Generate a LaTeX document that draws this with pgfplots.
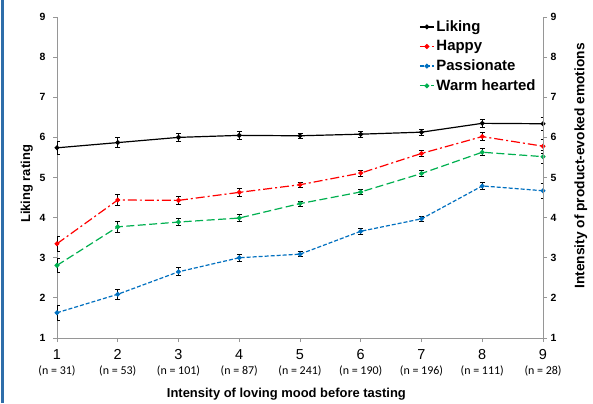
\documentclass[border=0pt]{standalone}
\usepackage{pgfplots}
\pgfplotsset{compat=1.18}
\usepackage{fontspec}
\setmainfont{Liberation Sans}
\newfontfamily\calibri{Carlito}
\definecolor{pblue}{RGB}{0,112,192}
\definecolor{wgreen}{RGB}{0,176,80}
\definecolor{axgrey}{RGB}{150,150,150}
\definecolor{frameblue}{RGB}{46,110,170}

\pgfplotstableread{
x y e
1 5.74 0.17
2 5.87 0.13
3 6.00 0.10
4 6.05 0.09
5 6.04 0.06
6 6.08 0.07
7 6.13 0.07
8 6.35 0.09
9 6.34 0.16
}\liking
\pgfplotstableread{
x y e
1 3.35 0.18
2 4.44 0.14
3 4.43 0.10
4 4.63 0.09
5 4.82 0.06
6 5.11 0.07
7 5.60 0.07
8 6.02 0.10
9 5.78 0.17
}\happy
\pgfplotstableread{
x y e
1 1.63 0.19
2 2.09 0.13
3 2.65 0.10
4 3.00 0.09
5 3.09 0.06
6 3.66 0.07
7 3.97 0.07
8 4.79 0.09
9 4.67 0.19
}\passionate
\pgfplotstableread{
x y e
1 2.81 0.18
2 3.77 0.13
3 3.89 0.09
4 3.99 0.08
5 4.35 0.06
6 4.64 0.06
7 5.10 0.07
8 5.63 0.09
9 5.52 0.16
}\warm

\newcommand{\nn}[1]{{\calibri\fontsize{12}{13}\selectfont (n = #1)}}
\begin{document}
\begin{tikzpicture}[x=1bp,y=1bp]
\useasboundingbox (0,0) rectangle (593,403);
\fill[white] (0,0) rectangle (593,403);
\draw[frameblue, line width=2.5bp] (2.5,0) -- (2.5,403);
\begin{axis}[
  at={(57bp,65bp)}, anchor=south west, scale only axis,
  width=486bp, height=321bp,
  xmin=1, xmax=9, ymin=1, ymax=9,
  axis y line*=left, axis x line*=bottom,
  axis line style={axgrey, line width=0.8bp},
  tick style={axgrey, line width=0.8bp},
  tick align=outside, major tick length=4bp,
  /pgf/number format/assume math mode=true,
  xtick={1,...,9}, ytick={1,...,9},
  xticklabels={
    {1\\\nn{31}}, {2\\\nn{53}}, {3\\\nn{101}}, {4\\\nn{87}}, {5\\\nn{241}},
    {6\\\nn{190}}, {7\\\nn{196}}, {8\\\nn{111}}, {9\\\nn{28}}},
  xticklabel style={align=center, font=\fontsize{14.5}{15}\selectfont, inner sep=1bp, yshift=-6bp},
  yticklabel style={font=\bfseries\fontsize{10.5}{12}\selectfont, xshift=-4bp},
  ylabel={Liking rating},
  ylabel style={at={(axis description cs:-0.062,0.48)}, anchor=center, font=\bfseries\fontsize{13}{15}\selectfont},
  xlabel={Intensity of loving mood before tasting},
  xlabel style={at={(axis description cs:0.472,-0.174)}, anchor=center, font=\bfseries\fontsize{13}{15}\selectfont},
  legend style={at={(axis description cs:0.745,0.995)}, anchor=north west, draw=none, fill=none,
    font=\bfseries\fontsize{15}{16}\selectfont, row sep=3.5bp, inner sep=0pt},
  legend cell align=left,
  legend image code/.code={\draw[#1] (0bp,0bp) -- (14bp,0bp); \draw[#1, solid] plot coordinates {(7bp,0bp)};},
  every axis plot/.append style={line width=1.2bp, mark=*, mark size=1.8bp},
  error bars/y dir=both, error bars/y explicit,
  error bars/error bar style={black, line width=0.8bp, solid},
  error bars/error mark options={rotate=90, black, mark size=2.5bp, line width=0.8bp, solid},
]
\addplot[black, mark options={black, solid}] table[x=x, y=y, y error=e] {\liking};
\addlegendentry{Liking}
\addplot[red, dash pattern=on 9bp off 3bp on 2bp off 3bp, mark options={red, solid}] table[x=x, y=y, y error=e] {\happy};
\addlegendentry{Happy}
\addplot[pblue, dash pattern=on 4bp off 2bp, mark options={pblue, solid}] table[x=x, y=y, y error=e] {\passionate};
\addlegendentry{Passionate}
\addplot[wgreen, dash pattern=on 8bp off 3.5bp, mark options={wgreen, solid}] table[x=x, y=y, y error=e] {\warm};
\addlegendentry{Warm hearted}
\end{axis}
\begin{axis}[
  at={(57bp,65bp)}, anchor=south west, scale only axis,
  width=486bp, height=321bp,
  xmin=1, xmax=9, ymin=1, ymax=9,
  axis y line*=right, axis x line=none,
  axis line style={axgrey, line width=0.8bp},
  tick style={axgrey, line width=0.8bp},
  tick align=outside, major tick length=4bp,
  /pgf/number format/assume math mode=true,
  ytick={1,...,9},
  yticklabel style={font=\bfseries\fontsize{10.5}{12}\selectfont},
  ylabel={Intensity of product-evoked emotions},
  ylabel style={at={(axis description cs:1.078,0.536)}, anchor=center, rotate=0, font=\bfseries\fontsize{13.8}{15}\selectfont},
]
\end{axis}
\end{tikzpicture}
\end{document}
